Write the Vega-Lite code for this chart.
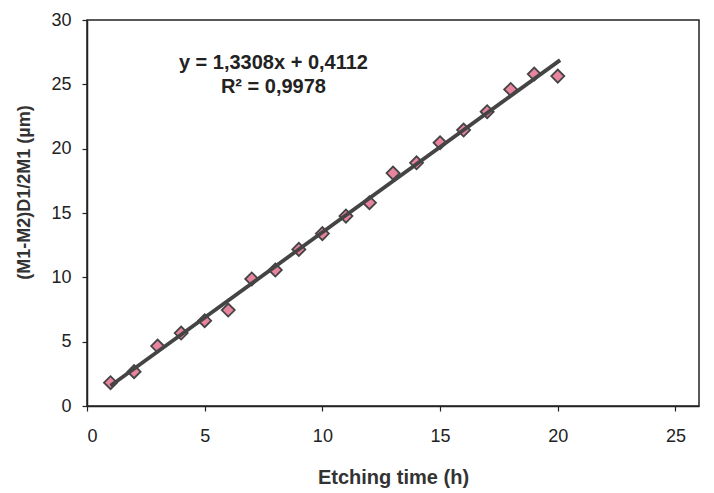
{
  "$schema": "https://vega.github.io/schema/vega-lite/v6.json",
  "autosize": "none",
  "width": 612,
  "height": 386,
  "padding": {"left": 87, "top": 20, "right": 15, "bottom": 87},
  "background": "white",
  "config": {
    "view": {"stroke": "#222", "strokeWidth": 1.5},
    "font": "Liberation Sans",
    "axis": {
      "grid": false,
      "domainColor": "#222",
      "domainWidth": 1.5,
      "tickColor": "#222",
      "tickSize": 5,
      "tickWidth": 1.2,
      "labelFontSize": 18,
      "labelColor": "#222",
      "titleFontSize": 20,
      "titleFontWeight": "bold",
      "titleColor": "#333"
    }
  },
  "data": {
    "values": [
      {"t": 1, "d": 1.81},
      {"t": 2, "d": 2.67},
      {"t": 3, "d": 4.66},
      {"t": 4, "d": 5.67},
      {"t": 5, "d": 6.63},
      {"t": 6, "d": 7.46},
      {"t": 7, "d": 9.87},
      {"t": 8, "d": 10.57},
      {"t": 9, "d": 12.17},
      {"t": 10, "d": 13.4},
      {"t": 11, "d": 14.76},
      {"t": 12, "d": 15.8},
      {"t": 13, "d": 18.1},
      {"t": 14, "d": 18.9},
      {"t": 15, "d": 20.46},
      {"t": 16, "d": 21.45},
      {"t": 17, "d": 22.87},
      {"t": 18, "d": 24.6},
      {"t": 19, "d": 25.8},
      {"t": 20, "d": 25.64}
    ]
  },
  "layer": [
    {
      "mark": {"type": "point", "shape": "diamond", "filled": true, "size": 170, "fill": "#e8849e", "stroke": "#444", "strokeWidth": 1.8, "opacity": 1},
      "encoding": {
        "x": {"field": "t", "type": "quantitative", "scale": {"domain": [0, 25]}, "axis": {"values": [0, 5, 10, 15, 20, 25], "title": "Etching time (h)", "labelPadding": 16, "titleY": 77, "titleBaseline": "alphabetic"}},
        "y": {"field": "d", "type": "quantitative", "scale": {"domain": [0, 30]}, "axis": {"values": [0, 5, 10, 15, 20, 25, 30], "title": "(M1-M2)D1/2M1 (µm)", "titleFont": "Liberation Sans Narrow, Liberation Sans", "titleFontSize": 18, "titleX": -63, "titleY": 172, "titleBaseline": "middle", "titleAlign": "center", "titleAngle": -90, "labelPadding": 11}}
      }
    },
    {
      "transform": [{"regression": "d", "on": "t", "extent": [1, 20.1]}],
      "mark": {"type": "line", "color": "#444", "strokeWidth": 3.8},
      "encoding": {
        "x": {"field": "t", "type": "quantitative"},
        "y": {"field": "d", "type": "quantitative"}
      }
    },
    {
      "data": {"values": [{"label": "y = 1,3308x + 0,4112", "lx": 7.92, "ly": 26.66}, {"label": "R² = 0,9978", "lx": 7.92, "ly": 24.79}]},
      "mark": {"type": "text", "fontSize": 20, "fontWeight": "bold", "color": "#222", "align": "center", "baseline": "middle"},
      "encoding": {
        "x": {"field": "lx", "type": "quantitative"},
        "y": {"field": "ly", "type": "quantitative"},
        "text": {"field": "label"}
      }
    }
  ]
}
